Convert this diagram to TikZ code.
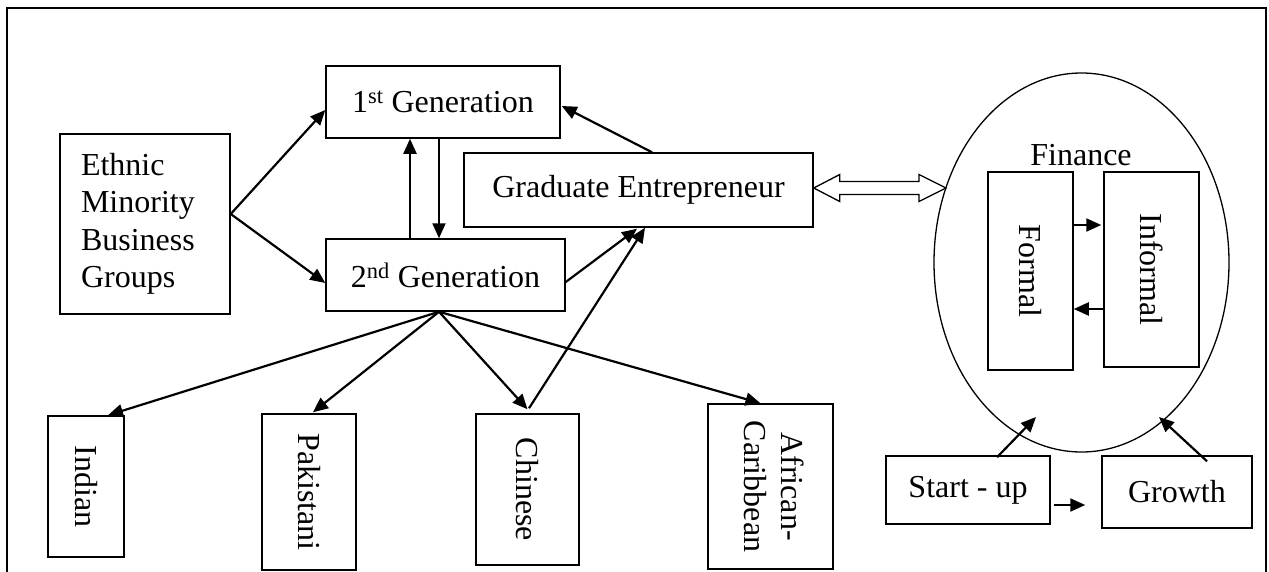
\documentclass[tikz,border=0pt]{standalone}
\usepackage{fontspec}
\setmainfont{Liberation Serif}
\usetikzlibrary{arrows.meta,calc,shapes.geometric}
\begin{document}
\begin{tikzpicture}[x=1pt,y=-1pt,
  every node/.style={font=\fontsize{32}{37.5}\selectfont},
  box/.style={draw,line width=1.5pt,inner sep=0pt},
  arr/.style={line width=2.2pt,-{Triangle[length=15pt,width=13pt]}},
]
\useasboundingbox (0,0) rectangle (1269,571);
\draw[line width=2.2pt] (7,620) -- (7,8) -- (1266,8) -- (1266,620);

\node[box,minimum width=170pt,minimum height=180pt,text width=128pt,inner xsep=21pt,align=left] (eth) at (145,224) {Ethnic\\Minority\\Business\\Groups};
\node[box,minimum width=234pt,minimum height=72pt] (g1) at (443,102) {1\textsuperscript{st} Generation};
\node[box,minimum width=239pt,minimum height=72pt] (g2) at (445.5,275) {2\textsuperscript{nd} Generation};
\node[box,minimum width=349pt,minimum height=74pt] (grad) at (638.5,190) {Graduate Entrepreneur};

\node[draw,ellipse,line width=1.3pt,minimum width=295pt,minimum height=379pt,inner sep=0pt] (ell) at (1081.5,262.5) {};
\node[anchor=base] (fin) at (1081,165) {Finance};
\node[box,minimum width=85pt,minimum height=198pt] (formal) at (1030.5,271) {\rotatebox{-90}{Formal}};
\node[box,minimum width=95pt,minimum height=195pt] (informal) at (1151.5,269.5) {\rotatebox{-90}{Informal}};
\node[box,minimum width=164pt,minimum height=68pt] (start) at (968,490) {Start - up};
\node[box,minimum width=150pt,minimum height=72pt] (growth) at (1177,492) {Growth};

\node[box,minimum width=76pt,minimum height=141pt] (indian) at (86,486.5) {\rotatebox{-90}{Indian}};
\node[box,minimum width=94pt,minimum height=156pt] (pak) at (309,492) {\rotatebox{-90}{Pakistani}};
\node[box,minimum width=103pt,minimum height=151pt] (chin) at (527.5,489.5) {\rotatebox{-90}{Chinese}};
\node[box,minimum width=125pt,minimum height=165pt] (afr) at (770.5,486.5) {\rotatebox{-90}{\begin{tabular}{@{}c@{}}African-\\Caribbean\end{tabular}}};

% double hollow arrow
\coordinate (dl) at ($(grad.east)+(0,-2)$);
\coordinate (dr) at (946,188);
\draw[line width=1.3pt,fill=white,line join=miter] (dl) -- ++(26,-13.5) -- ++(0,7) -- ($(dr)+(-27,-6.5)$) -- ++(0,-7) -- (dr) -- ++(-27,13.5) -- ++(0,-7) -- ($(dl)+(26,6.5)$) -- ++(0,7) -- cycle;

% arrows
\draw[arr] ($(eth.east)+(0,-10)$) -- ($(g1.west)+(0,8)$);
\draw[arr] ($(eth.east)+(0,-10)$) -- ($(g2.west)+(0,8)$);
\draw[arr] ($(g2.north)+(-35.5,0)$) -- ($(g1.south)+(-33,0)$);
\draw[arr] ($(g1.south)+(-4,0)$) -- ($(g2.north)+(-6.5,0)$);
\draw[arr] ($(grad.north)+(13.5,0)$) -- ($(g1.east)+(1,4)$);
\draw[arr] ($(g2.east)+(0,7)$) -- ($(grad.south)+(-1.5,1)$);
\draw[arr] ($(chin.north)+(1.5,-5)$) -- ($(grad.south)+(6.5,0)$);

\coordinate (fan) at ($(g2.south)+(-6.5,0)$);
\draw[arr] (fan) -- ($(indian.north)+(22,0)$);
\draw[arr] (fan) -- ($(pak.north)+(4,-1)$);
\draw[arr] (fan) -- ($(chin.north)+(0,-4)$);
\draw[arr] (fan) -- ($(afr.north)+(-10,0)$);

\coordinate (fi1) at ($(formal.east)+(0,-46)$);
\draw[arr] (fi1) -- ($(fi1 -| informal.west)+(-2,0)$);
\coordinate (if1) at ($(informal.west)+(0,39.5)$);
\draw[arr] (if1) -- (if1 -| formal.east);

\coordinate (e1) at (1036,417);
\coordinate (e2) at (1159,417);
\draw[arr] ($(start.north)+(29,2)$) -- (e1);
\draw[arr] ($(growth.north)+(30,6)$) -- (e2);
\draw[arr] ($(start.east)+(3,15)$) -- ($(growth.west)+(-16,13)$);
\end{tikzpicture}
\end{document}
